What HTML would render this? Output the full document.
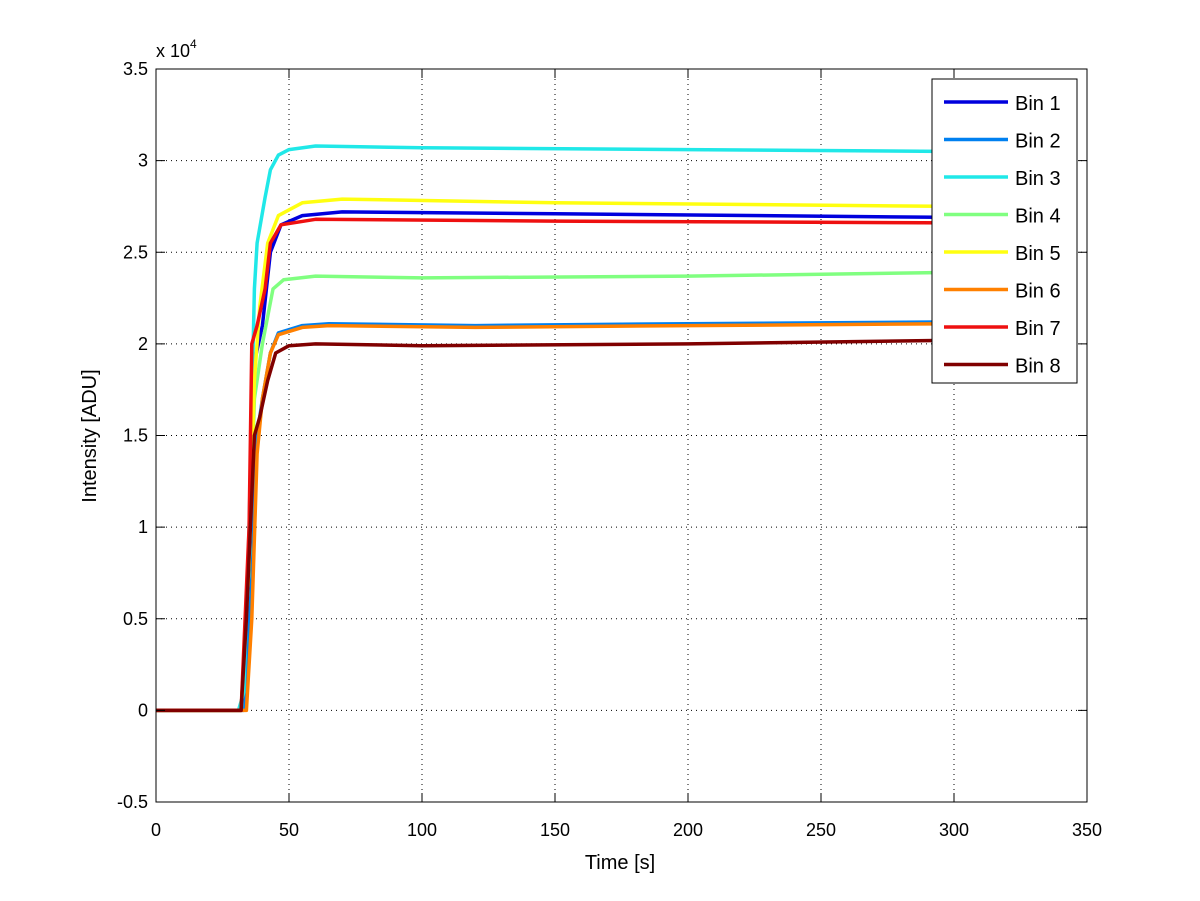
<!DOCTYPE html>
<html><head><meta charset="utf-8"><style>
body{margin:0;background:#fff;}
svg{display:block;font-family:"Liberation Sans",sans-serif;}
</style></head><body>
<svg id="chart" width="1200" height="901" viewBox="0 0 1200 901" xmlns="http://www.w3.org/2000/svg">
<rect width="1200" height="901" fill="#fff"/>
<g id="grid"></g><g id="series"></g><g id="axes"></g><g id="legend"></g>
</svg>
<script>
const xTicks=[0,50,100,150,200,250,300,350];
const yTicks=[-0.5,0,0.5,1,1.5,2,2.5,3,3.5];
const yTickLabels=["-0.5","0","0.5","1","1.5","2","2.5","3","3.5"];
const seriesNames=["Bin 1","Bin 2","Bin 3","Bin 4","Bin 5","Bin 6","Bin 7","Bin 8"];
const seriesColors=["#0000dd","#0080f0","#20e8e8","#80ff80","#ffff10","#ff8000","#ee1010","#800000"];
const bin1=[[0,0],[32,0],[35,0.8],[37,1.9],[40,2.1],[43,2.5],[47,2.65],[55,2.7],[70,2.72],[150,2.71],[300,2.69]];
const bin2=[[0,0],[33,0],[35,0.5],[38,1.5],[40,1.7],[43,1.95],[46,2.06],[55,2.1],[65,2.11],[120,2.1],[200,2.11],[300,2.12]];
const bin3=[[0,0],[31,0],[33,0.1],[35,1.0],[37,2.3],[38,2.55],[41,2.8],[43,2.95],[46,3.03],[50,3.06],[60,3.08],[100,3.07],[200,3.06],[300,3.05]];
const bin4=[[0,0],[32,0],[35,0.8],[37,1.7],[40,2.0],[44,2.3],[48,2.35],[60,2.37],[100,2.36],[200,2.37],[300,2.39]];
const bin5=[[0,0],[32,0],[35,0.8],[37,1.8],[39,2.2],[42,2.55],[46,2.7],[55,2.77],[70,2.79],[150,2.77],[300,2.75]];
const bin6=[[0,0],[34,0],[36,0.5],[38,1.4],[40,1.7],[43,1.95],[46,2.05],[55,2.09],[65,2.1],[120,2.09],[200,2.1],[300,2.11]];
const bin7=[[0,0],[32,0],[35,1.0],[36,2.0],[38,2.1],[41,2.3],[43,2.55],[47,2.65],[60,2.68],[150,2.67],[300,2.66]];
const bin8=[[0,0],[32,0],[34,0.5],[37,1.5],[39,1.6],[42,1.8],[45,1.95],[50,1.99],[60,2.0],[100,1.99],[200,2.0],[300,2.02]];
const allSeries=[bin1,bin2,bin3,bin4,bin5,bin6,bin7,bin8];

const X0=156,X1=1087,Y0=802,Y1=69;
const sx=v=>X0+(v-0)/(350-0)*(X1-X0);
const sy=v=>Y0-(v+0.5)/(3.5+0.5)*(Y0-Y1);
const NS="http://www.w3.org/2000/svg";
function mk(tag,attrs,parent,text){const e=document.createElementNS(NS,tag);for(const k in attrs)e.setAttribute(k,attrs[k]);if(text!==undefined)e.textContent=text;parent.appendChild(e);return e;}
const grid=document.getElementById('grid'),axes=document.getElementById('axes'),ser=document.getElementById('series'),leg=document.getElementById('legend');

xTicks.forEach((t,i)=>{
  const x=sx(t);
  if(i>0&&i<xTicks.length-1){const g=mk('line',{x1:x,x2:x,y1:Y1,y2:Y0,stroke:'#000','stroke-width':1,'stroke-dasharray':'1,4'},grid);
  
  }
  mk('line',{x1:x,x2:x,y1:Y0,y2:Y0-9,stroke:'#000'},axes);
  mk('line',{x1:x,x2:x,y1:Y1,y2:Y1+9,stroke:'#000'},axes);
  const l=mk('text',{x:x,y:Y0+34,'text-anchor':'middle','font-size':18},axes,String(t));
  
  
});
yTicks.forEach((t,i)=>{
  const y=sy(t);
  if(i>0&&i<yTicks.length-1){const g=mk('line',{x1:X0,x2:X1,y1:y,y2:y,stroke:'#000','stroke-width':1,'stroke-dasharray':'1,4'},grid);
  
  }
  mk('line',{x1:X0,x2:X0+9,y1:y,y2:y,stroke:'#000'},axes);
  mk('line',{x1:X1,x2:X1-9,y1:y,y2:y,stroke:'#000'},axes);
  const l=mk('text',{x:X0-8,y:y+6,'text-anchor':'end','font-size':18},axes,yTickLabels[i]);
  
  
});
const box=mk('rect',{x:X0,y:Y1,width:X1-X0,height:Y0-Y1,fill:'none',stroke:'#000'},axes);



const mult=mk('text',{x:156,y:57,'font-size':18},axes);


mult.innerHTML='x 10<tspan dy="-9" font-size="12">4</tspan>';
const xt=mk('text',{x:620,y:869,'text-anchor':'middle','font-size':20},axes,'Time [s]');


const yt=mk('text',{x:96,y:436,'text-anchor':'middle','font-size':20,transform:'rotate(-90 96 436)'},axes,'Intensity [ADU]');



allSeries.forEach((s,i)=>{
  const p=mk('polyline',{points:s.map(d=>sx(d[0]).toFixed(1)+','+sy(d[1]).toFixed(1)).join(' '),fill:'none',stroke:seriesColors[i],'stroke-width':3.5,'stroke-linejoin':'round'},ser);
  
  
});

const lb=mk('rect',{x:932,y:79,width:145,height:304,fill:'#fff',stroke:'#000'},leg);


seriesNames.forEach((n,i)=>{
  const y=102+i*37.5;
  const g=mk('g',{},leg);
  
  
  mk('line',{x1:944,x2:1008,y1:y,y2:y,stroke:seriesColors[i],'stroke-width':3.5},g);
  mk('text',{x:1015,y:y+8,'font-size':20},g,n);
});
</script>
</body></html>
